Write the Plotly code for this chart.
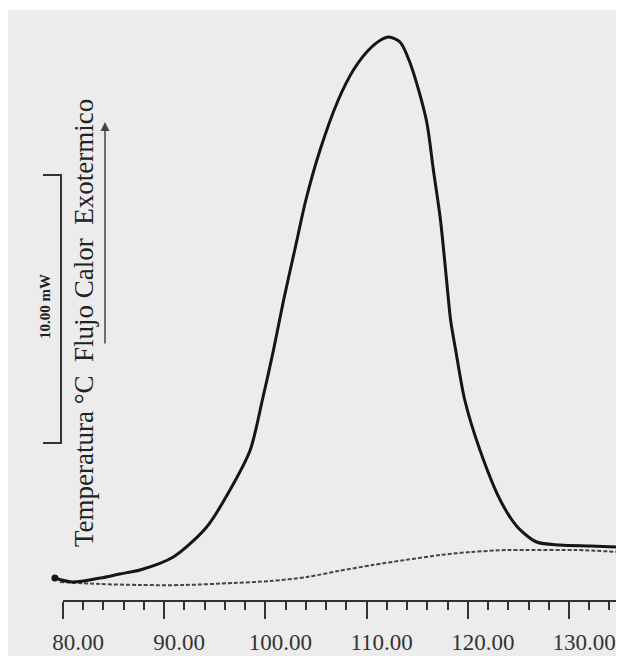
import plotly.graph_objects as go

# DSC thermogram: temperature (°C) vs exothermic heat flow (arbitrary units)
temp_main = [79.2, 80.9, 83.7, 85.6, 87.6, 90.9, 94.2, 96.5, 98.5, 99.7, 100.8, 101.8,
             102.9, 104.0, 105.4, 107.2, 108.7, 110.2, 111.4, 112.2, 113.3, 114.3,
             115.9, 116.6, 117.3, 117.9, 118.3, 118.8, 119.7, 121.2, 123.2, 124.9,
             126.8, 129.1, 132.1, 135.0]
flow_main = [2.2, 1.8, 2.2, 2.6, 3.0, 4.3, 7.3, 11.0, 15.0, 20.0, 25.0, 30.0,
             35.0, 40.0, 45.0, 50.0, 53.0, 55.0, 56.0, 56.3, 55.8, 53.7,
             48.0, 43.0, 38.0, 32.0, 28.0, 25.0, 20.0, 15.0, 10.0, 7.3,
             5.8, 5.5, 5.4, 5.3]

temp_base = [79.7, 83.6, 87.6, 92.0, 96.8, 100.5, 104.1, 107.2, 110.6, 113.8,
             117.3, 120.3, 123.9, 126.0, 130.6, 135.0]
flow_base = [1.8, 1.6, 1.5, 1.5, 1.7, 1.9, 2.3, 2.9, 3.5, 4.0,
             4.5, 4.8, 5.0, 5.0, 5.0, 4.8]

tick_vals = [80, 90, 100, 110, 120, 130]
tick_text = ["80.00", "90.00", "100.00", "110.00", "120.00", "130.00"]

title_text = "Temperatura °C\u00a0\u00a0Flujo Calor\u00a0\u00a0Exotermico"
scale_text = "<b>10.00 mW</b>"

# figure sits inside the page body (8px margin)
OFF = 8
W, H = 616, 648
PH = 592          # plot height (axis line at page y = 600)
B = H - PH


def px(x):
    return (x - OFF) / W


def py(y):
    return (PH - (y - OFF)) / PH


fig = go.Figure()

fig.add_trace(go.Scatter(
    x=temp_base, y=flow_base, mode="lines",
    line=dict(color="#444444", width=2, dash="4px,2px", shape="spline", smoothing=0.8),
    hoverinfo="skip", showlegend=False))

fig.add_trace(go.Scatter(
    x=temp_main, y=flow_main, mode="lines",
    line=dict(color="#151515", width=3, shape="spline", smoothing=0.8),
    hoverinfo="skip", showlegend=False))

fig.add_trace(go.Scatter(
    x=[temp_main[0], temp_main[-1]], y=[flow_main[0], flow_main[-1]], mode="markers",
    marker=dict(color="#151515", size=7),
    hoverinfo="skip", showlegend=False))

# empty trace to carry the visible temperature axis
fig.add_trace(go.Scatter(x=[], y=[], xaxis="x2", yaxis="y", showlegend=False))

x80 = 55  # figure pixel of the 80.00 tick
scale = 10.12
fig.update_layout(
    width=W, height=H,
    margin=dict(l=0, r=0, t=0, b=B, pad=0),
    paper_bgcolor="white",
    plot_bgcolor="rgba(0,0,0,0)",
    xaxis=dict(range=[80 - x80 / scale, 80 + (W - x80) / scale], visible=False,
               automargin=False),
    xaxis2=dict(
        domain=[x80 / W, 1], range=[80, 80 + (W - x80) / scale], anchor="y",
        automargin=False, ticklabeloverflow="allow",
        showline=True, linewidth=2, linecolor="#333333",
        showgrid=False, zeroline=False,
        tickmode="array", tickvals=tick_vals, ticktext=tick_text,
        ticks="outside", ticklen=17, tickwidth=2, tickcolor="#333333",
        ticklabelshift=15, ticklabelstandoff=3,
        tickfont=dict(family="Liberation Serif", size=23, color="#333333"),
        minor=dict(tick0=80, dtick=2, ticks="outside", ticklen=8,
                   tickwidth=2, tickcolor="#333333", showgrid=False),
    ),
    yaxis=dict(range=[0, 59.2], visible=False, automargin=False),
    shapes=[
        dict(type="rect", xref="paper", yref="paper", layer="below",
             x0=0, x1=1.0, y0=-B / PH, y1=py(10),
             fillcolor="#ececec", line=dict(width=0)),
        dict(type="path", xref="paper", yref="paper",
             path=f"M {px(43)},{py(175)} L {px(61)},{py(175)} L {px(61)},{py(443)} L {px(43)},{py(443)}",
             line=dict(color="#333333", width=2)),
    ],
    annotations=[
        dict(text=title_text, x=px(84), y=py(323), xref="paper", yref="paper",
             showarrow=False, textangle=-90, xanchor="center", yanchor="middle",
             font=dict(family="Liberation Serif", size=27, color="#222222")),
        dict(text=scale_text, x=px(45), y=py(307), xref="paper", yref="paper",
             showarrow=False, textangle=-90, xanchor="center", yanchor="middle",
             font=dict(family="Liberation Serif", size=15, color="#222222")),
        dict(text="", x=px(105), y=py(122), xref="paper", yref="paper",
             showarrow=True, ax=0, ay=223, arrowhead=2, arrowsize=1.2,
             arrowwidth=1.5, arrowcolor="#444444"),
    ],
)

fig.write_html("out.html")
